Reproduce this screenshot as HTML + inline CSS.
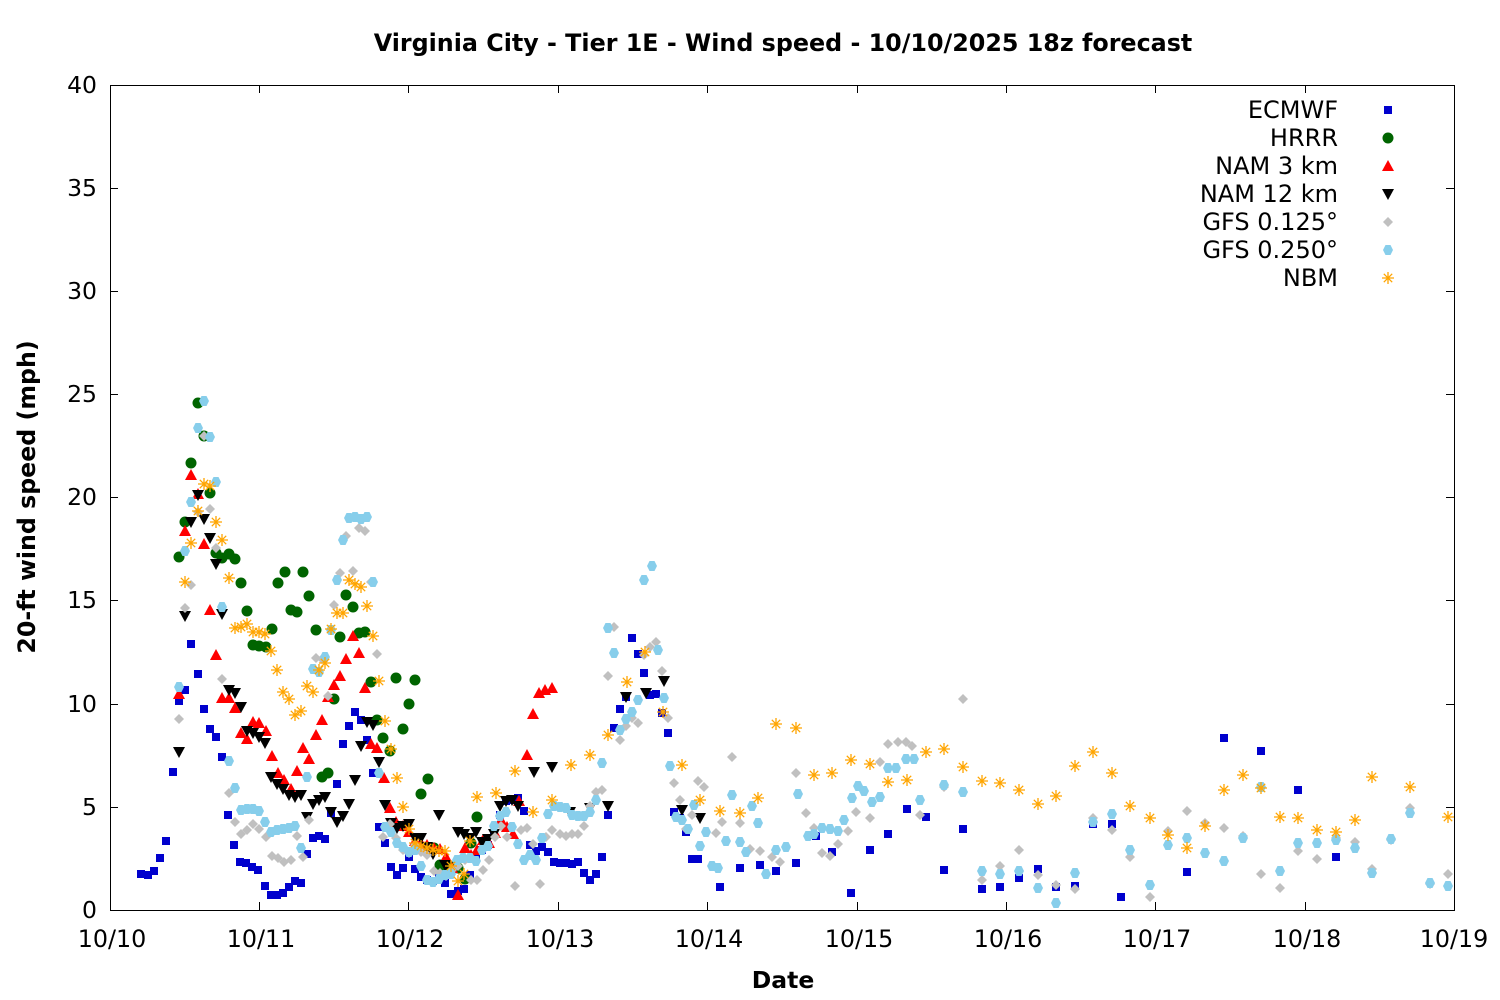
<!DOCTYPE html>
<html><head><meta charset="utf-8"><style>body{margin:0;background:#fff}svg{display:block}text{font-family:"DejaVu Sans","Liberation Sans",sans-serif}</style></head><body>
<svg width="1500" height="1000" viewBox="0 0 1500 1000" xmlns="http://www.w3.org/2000/svg">
<defs>
<rect id="s" x="-4" y="-4" width="8" height="8" fill="#0000cd"/>
<circle id="c" r="5.5" fill="#006400"/>
<path id="t" d="M0,-6 L6,5 L-6,5Z" fill="#ff0000"/>
<path id="v" d="M0,6 L6,-5 L-6,-5Z" fill="#000"/>
<path id="d" d="M0,-5 L5,0 L0,5 L-5,0Z" fill="#c0c0c0"/>
<path id="h" d="M-2.5,-5 L2.5,-5 L5,0 L2.5,5 L-2.5,5 L-5,0Z" fill="#87ceeb"/>
<path id="a" d="M-6,0H6M0,-6V6M-4.2,-4.2L4.2,4.2M-4.2,4.2L4.2,-4.2" stroke="#ffa500" stroke-width="1.3" fill="none"/>
</defs>
<text x="783" y="51" text-anchor="middle" font-size="23.8" font-weight="bold">Virginia City - Tier 1E - Wind speed - 10/10/2025 18z forecast</text>
<g stroke="#000" stroke-width="1" fill="none">
<rect x="110.5" y="85.5" width="1344" height="825"/>
<path d="M110,807.5h8M110,704.5h8M110,600.5h8M110,497.5h8M110,394.5h8M110,291.5h8M110,188.5h8M1454,807.5h-8M1454,704.5h-8M1454,600.5h-8M1454,497.5h-8M1454,394.5h-8M1454,291.5h-8M1454,188.5h-8"/>
<path d="M259.5,910v-8M408.5,910v-8M558.5,910v-8M707.5,910v-8M857.5,910v-8M1006.5,910v-8M1155.5,910v-8M1305.5,910v-8M259.5,85v8M408.5,85v8M558.5,85v8M707.5,85v8M857.5,85v8M1006.5,85v8M1155.5,85v8M1305.5,85v8"/>
</g>
<g font-size="23.5" text-anchor="end">
<text x="97" y="918">0</text><text x="97" y="815">5</text><text x="97" y="712">10</text><text x="97" y="608">15</text><text x="97" y="505">20</text><text x="97" y="402">25</text><text x="97" y="299">30</text><text x="97" y="196">35</text><text x="97" y="93">40</text>
</g>
<g font-size="23.8" text-anchor="middle">
<text x="112" y="947">10/10</text><text x="261" y="947">10/11</text><text x="410" y="947">10/12</text><text x="560" y="947">10/13</text><text x="709" y="947">10/14</text><text x="859" y="947">10/15</text><text x="1008" y="947">10/16</text><text x="1157" y="947">10/17</text><text x="1307" y="947">10/18</text><text x="1454" y="947">10/19</text>
</g>
<text x="783" y="988" text-anchor="middle" font-size="23.5" font-weight="bold">Date</text>
<text transform="translate(35,497) rotate(-90)" text-anchor="middle" font-size="23.7" font-weight="bold">20-ft wind speed (mph)</text>
<g font-size="24" text-anchor="end">
<text x="1338" y="118">ECMWF</text><text x="1338" y="146">HRRR</text><text x="1338" y="174">NAM 3 km</text><text x="1338" y="202">NAM 12 km</text><text x="1338" y="230">GFS 0.125°</text><text x="1338" y="258">GFS 0.250°</text><text x="1338" y="286">NBM</text>
</g>
<use href="#s" x="1388" y="110"/><use href="#c" x="1388" y="138"/><use href="#t" x="1388" y="166"/><use href="#v" x="1388" y="194"/><use href="#d" x="1388" y="222"/><use href="#h" x="1388" y="250"/><use href="#a" x="1388" y="278"/>
<g>
<use href="#s" x="141" y="874"/><use href="#s" x="148" y="875"/><use href="#s" x="154" y="871"/><use href="#s" x="160" y="858"/><use href="#s" x="166" y="841"/><use href="#s" x="173" y="772"/><use href="#s" x="179" y="701"/><use href="#s" x="185" y="690"/><use href="#s" x="191" y="644"/><use href="#s" x="198" y="674"/><use href="#s" x="204" y="709"/><use href="#s" x="210" y="729"/><use href="#s" x="216" y="737"/><use href="#s" x="222" y="757"/><use href="#s" x="228" y="815"/><use href="#s" x="234" y="845"/><use href="#s" x="240" y="862"/><use href="#s" x="246" y="863"/><use href="#s" x="252" y="867"/><use href="#s" x="258" y="870"/><use href="#s" x="265" y="886"/><use href="#s" x="271" y="895"/><use href="#s" x="277" y="895"/><use href="#s" x="283" y="893"/><use href="#s" x="289" y="887"/><use href="#s" x="295" y="881"/><use href="#s" x="301" y="883"/><use href="#s" x="307" y="854"/><use href="#s" x="313" y="838"/><use href="#s" x="319" y="836"/><use href="#s" x="325" y="839"/><use href="#s" x="331" y="813"/><use href="#s" x="337" y="784"/><use href="#s" x="343" y="744"/><use href="#s" x="349" y="726"/><use href="#s" x="355" y="712"/><use href="#s" x="361" y="720"/><use href="#s" x="367" y="740"/><use href="#s" x="373" y="773"/><use href="#s" x="379" y="827"/><use href="#s" x="385" y="843"/><use href="#s" x="391" y="867"/><use href="#s" x="397" y="875"/><use href="#s" x="403" y="868"/><use href="#s" x="409" y="857"/><use href="#s" x="415" y="869"/><use href="#s" x="421" y="877"/><use href="#s" x="427" y="880"/><use href="#s" x="433" y="881"/><use href="#s" x="439" y="874"/><use href="#s" x="445" y="883"/><use href="#s" x="451" y="894"/><use href="#s" x="458" y="891"/><use href="#s" x="464" y="889"/><use href="#s" x="470" y="875"/><use href="#s" x="476" y="857"/><use href="#s" x="482" y="850"/><use href="#s" x="488" y="845"/><use href="#s" x="494" y="833"/><use href="#s" x="500" y="815"/><use href="#s" x="506" y="801"/><use href="#s" x="512" y="800"/><use href="#s" x="518" y="798"/><use href="#s" x="524" y="811"/><use href="#s" x="530" y="845"/><use href="#s" x="536" y="851"/><use href="#s" x="542" y="847"/><use href="#s" x="548" y="852"/><use href="#s" x="554" y="862"/><use href="#s" x="560" y="863"/><use href="#s" x="566" y="863"/><use href="#s" x="572" y="864"/><use href="#s" x="578" y="862"/><use href="#s" x="584" y="873"/><use href="#s" x="590" y="880"/><use href="#s" x="596" y="874"/><use href="#s" x="602" y="857"/><use href="#s" x="608" y="815"/><use href="#s" x="614" y="728"/><use href="#s" x="620" y="709"/><use href="#s" x="626" y="697"/><use href="#s" x="632" y="638"/><use href="#s" x="638" y="654"/><use href="#s" x="644" y="673"/><use href="#s" x="650" y="695"/><use href="#s" x="656" y="694"/><use href="#s" x="662" y="713"/><use href="#s" x="668" y="733"/><use href="#s" x="674" y="812"/><use href="#s" x="680" y="818"/><use href="#s" x="686" y="832"/><use href="#s" x="692" y="859"/><use href="#s" x="698" y="859"/><use href="#s" x="720" y="887"/><use href="#s" x="740" y="868"/><use href="#s" x="760" y="865"/><use href="#s" x="776" y="871"/><use href="#s" x="796" y="863"/><use href="#s" x="816" y="836"/><use href="#s" x="832" y="852"/><use href="#s" x="851" y="893"/><use href="#s" x="870" y="850"/><use href="#s" x="888" y="834"/><use href="#s" x="907" y="809"/><use href="#s" x="926" y="817"/><use href="#s" x="944" y="870"/><use href="#s" x="963" y="829"/><use href="#s" x="982" y="889"/><use href="#s" x="1000" y="887"/><use href="#s" x="1019" y="878"/><use href="#s" x="1038" y="869"/><use href="#s" x="1056" y="887"/><use href="#s" x="1075" y="886"/><use href="#s" x="1093" y="824"/><use href="#s" x="1112" y="824"/><use href="#s" x="1121" y="897"/><use href="#s" x="1187" y="872"/><use href="#s" x="1224" y="738"/><use href="#s" x="1261" y="751"/><use href="#s" x="1298" y="790"/><use href="#s" x="1336" y="857"/>
</g>
<g>
<use href="#c" x="179" y="557"/><use href="#c" x="185" y="522"/><use href="#c" x="191" y="463"/><use href="#c" x="198" y="403"/><use href="#c" x="204" y="436"/><use href="#c" x="210" y="493"/><use href="#c" x="216" y="553"/><use href="#c" x="222" y="558"/><use href="#c" x="229" y="554"/><use href="#c" x="235" y="559"/><use href="#c" x="241" y="583"/><use href="#c" x="247" y="611"/><use href="#c" x="253" y="645"/><use href="#c" x="259" y="646"/><use href="#c" x="266" y="647"/><use href="#c" x="272" y="629"/><use href="#c" x="278" y="583"/><use href="#c" x="285" y="572"/><use href="#c" x="291" y="610"/><use href="#c" x="297" y="612"/><use href="#c" x="303" y="572"/><use href="#c" x="309" y="596"/><use href="#c" x="316" y="630"/><use href="#c" x="322" y="777"/><use href="#c" x="328" y="773"/><use href="#c" x="334" y="699"/><use href="#c" x="340" y="637"/><use href="#c" x="346" y="595"/><use href="#c" x="353" y="607"/><use href="#c" x="359" y="633"/><use href="#c" x="365" y="632"/><use href="#c" x="371" y="682"/><use href="#c" x="377" y="720"/><use href="#c" x="383" y="738"/><use href="#c" x="390" y="751"/><use href="#c" x="396" y="678"/><use href="#c" x="403" y="729"/><use href="#c" x="409" y="704"/><use href="#c" x="415" y="680"/><use href="#c" x="421" y="794"/><use href="#c" x="428" y="779"/><use href="#c" x="434" y="848"/><use href="#c" x="440" y="865"/><use href="#c" x="446" y="873"/><use href="#c" x="452" y="867"/><use href="#c" x="458" y="868"/><use href="#c" x="465" y="879"/><use href="#c" x="471" y="843"/><use href="#c" x="477" y="817"/>
</g>
<g>
<use href="#t" x="179" y="694"/><use href="#t" x="185" y="531"/><use href="#t" x="191" y="475"/><use href="#t" x="198" y="494"/><use href="#t" x="204" y="544"/><use href="#t" x="210" y="610"/><use href="#t" x="216" y="655"/><use href="#t" x="222" y="698"/><use href="#t" x="229" y="698"/><use href="#t" x="235" y="708"/><use href="#t" x="241" y="733"/><use href="#t" x="247" y="739"/><use href="#t" x="253" y="722"/><use href="#t" x="259" y="723"/><use href="#t" x="266" y="731"/><use href="#t" x="272" y="756"/><use href="#t" x="278" y="773"/><use href="#t" x="284" y="780"/><use href="#t" x="291" y="789"/><use href="#t" x="297" y="771"/><use href="#t" x="303" y="748"/><use href="#t" x="309" y="759"/><use href="#t" x="316" y="735"/><use href="#t" x="322" y="720"/><use href="#t" x="328" y="697"/><use href="#t" x="334" y="685"/><use href="#t" x="340" y="676"/><use href="#t" x="346" y="659"/><use href="#t" x="353" y="636"/><use href="#t" x="359" y="653"/><use href="#t" x="365" y="688"/><use href="#t" x="371" y="744"/><use href="#t" x="377" y="748"/><use href="#t" x="384" y="778"/><use href="#t" x="390" y="808"/><use href="#t" x="396" y="822"/><use href="#t" x="403" y="826"/><use href="#t" x="409" y="832"/><use href="#t" x="415" y="841"/><use href="#t" x="421" y="843"/><use href="#t" x="427" y="845"/><use href="#t" x="434" y="848"/><use href="#t" x="440" y="849"/><use href="#t" x="446" y="857"/><use href="#t" x="452" y="868"/><use href="#t" x="458" y="895"/><use href="#t" x="465" y="848"/><use href="#t" x="471" y="855"/><use href="#t" x="477" y="850"/><use href="#t" x="483" y="840"/><use href="#t" x="489" y="843"/><use href="#t" x="495" y="833"/><use href="#t" x="501" y="820"/><use href="#t" x="507" y="827"/><use href="#t" x="513" y="834"/><use href="#t" x="519" y="801"/><use href="#t" x="527" y="755"/><use href="#t" x="533" y="714"/><use href="#t" x="539" y="693"/><use href="#t" x="545" y="690"/><use href="#t" x="552" y="688"/>
</g>
<g>
<use href="#v" x="179" y="752"/><use href="#v" x="185" y="616"/><use href="#v" x="191" y="522"/><use href="#v" x="198" y="495"/><use href="#v" x="204" y="519"/><use href="#v" x="210" y="538"/><use href="#v" x="216" y="564"/><use href="#v" x="222" y="614"/><use href="#v" x="229" y="690"/><use href="#v" x="235" y="693"/><use href="#v" x="241" y="707"/><use href="#v" x="247" y="731"/><use href="#v" x="253" y="733"/><use href="#v" x="259" y="737"/><use href="#v" x="265" y="743"/><use href="#v" x="271" y="777"/><use href="#v" x="277" y="784"/><use href="#v" x="283" y="789"/><use href="#v" x="289" y="795"/><use href="#v" x="295" y="797"/><use href="#v" x="301" y="795"/><use href="#v" x="307" y="817"/><use href="#v" x="313" y="804"/><use href="#v" x="319" y="800"/><use href="#v" x="325" y="797"/><use href="#v" x="331" y="812"/><use href="#v" x="337" y="822"/><use href="#v" x="343" y="816"/><use href="#v" x="349" y="804"/><use href="#v" x="355" y="780"/><use href="#v" x="361" y="746"/><use href="#v" x="367" y="722"/><use href="#v" x="373" y="725"/><use href="#v" x="379" y="762"/><use href="#v" x="385" y="805"/><use href="#v" x="391" y="823"/><use href="#v" x="397" y="828"/><use href="#v" x="403" y="826"/><use href="#v" x="409" y="824"/><use href="#v" x="415" y="838"/><use href="#v" x="421" y="838"/><use href="#v" x="427" y="847"/><use href="#v" x="433" y="854"/><use href="#v" x="439" y="815"/><use href="#v" x="445" y="865"/><use href="#v" x="451" y="872"/><use href="#v" x="458" y="832"/><use href="#v" x="464" y="834"/><use href="#v" x="470" y="838"/><use href="#v" x="476" y="832"/><use href="#v" x="482" y="842"/><use href="#v" x="488" y="839"/><use href="#v" x="494" y="834"/><use href="#v" x="500" y="806"/><use href="#v" x="506" y="801"/><use href="#v" x="512" y="800"/><use href="#v" x="518" y="806"/><use href="#v" x="534" y="772"/><use href="#v" x="552" y="767"/><use href="#v" x="570" y="812"/><use href="#v" x="590" y="808"/><use href="#v" x="608" y="806"/><use href="#v" x="626" y="697"/><use href="#v" x="646" y="693"/><use href="#v" x="664" y="681"/><use href="#v" x="682" y="810"/><use href="#v" x="700" y="818"/>
</g>
<g>
<use href="#d" x="179" y="719"/><use href="#d" x="185" y="608"/><use href="#d" x="191" y="585"/><use href="#d" x="198" y="512"/><use href="#d" x="204" y="436"/><use href="#d" x="210" y="509"/><use href="#d" x="216" y="548"/><use href="#d" x="222" y="679"/><use href="#d" x="229" y="793"/><use href="#d" x="235" y="822"/><use href="#d" x="241" y="834"/><use href="#d" x="247" y="830"/><use href="#d" x="253" y="824"/><use href="#d" x="259" y="829"/><use href="#d" x="266" y="837"/><use href="#d" x="272" y="856"/><use href="#d" x="278" y="858"/><use href="#d" x="284" y="862"/><use href="#d" x="291" y="860"/><use href="#d" x="297" y="836"/><use href="#d" x="303" y="857"/><use href="#d" x="309" y="820"/><use href="#d" x="316" y="658"/><use href="#d" x="322" y="659"/><use href="#d" x="328" y="696"/><use href="#d" x="334" y="605"/><use href="#d" x="340" y="573"/><use href="#d" x="346" y="536"/><use href="#d" x="353" y="571"/><use href="#d" x="359" y="528"/><use href="#d" x="365" y="531"/><use href="#d" x="371" y="582"/><use href="#d" x="377" y="654"/><use href="#d" x="383" y="837"/><use href="#d" x="390" y="824"/><use href="#d" x="396" y="838"/><use href="#d" x="403" y="850"/><use href="#d" x="409" y="853"/><use href="#d" x="415" y="845"/><use href="#d" x="421" y="852"/><use href="#d" x="427" y="855"/><use href="#d" x="434" y="871"/><use href="#d" x="440" y="873"/><use href="#d" x="446" y="876"/><use href="#d" x="452" y="870"/><use href="#d" x="458" y="866"/><use href="#d" x="465" y="860"/><use href="#d" x="471" y="880"/><use href="#d" x="477" y="880"/><use href="#d" x="483" y="870"/><use href="#d" x="489" y="860"/><use href="#d" x="495" y="837"/><use href="#d" x="501" y="826"/><use href="#d" x="507" y="837"/><use href="#d" x="515" y="886"/><use href="#d" x="521" y="830"/><use href="#d" x="527" y="828"/><use href="#d" x="533" y="844"/><use href="#d" x="540" y="884"/><use href="#d" x="546" y="837"/><use href="#d" x="552" y="830"/><use href="#d" x="560" y="834"/><use href="#d" x="566" y="836"/><use href="#d" x="572" y="834"/><use href="#d" x="578" y="834"/><use href="#d" x="584" y="826"/><use href="#d" x="590" y="806"/><use href="#d" x="596" y="792"/><use href="#d" x="602" y="790"/><use href="#d" x="608" y="676"/><use href="#d" x="614" y="627"/><use href="#d" x="620" y="740"/><use href="#d" x="626" y="726"/><use href="#d" x="632" y="718"/><use href="#d" x="638" y="723"/><use href="#d" x="644" y="655"/><use href="#d" x="650" y="647"/><use href="#d" x="656" y="642"/><use href="#d" x="662" y="671"/><use href="#d" x="668" y="718"/><use href="#d" x="674" y="783"/><use href="#d" x="680" y="800"/><use href="#d" x="686" y="829"/><use href="#d" x="692" y="815"/><use href="#d" x="698" y="781"/><use href="#d" x="704" y="787"/><use href="#d" x="716" y="833"/><use href="#d" x="722" y="822"/><use href="#d" x="732" y="757"/><use href="#d" x="740" y="823"/><use href="#d" x="750" y="849"/><use href="#d" x="760" y="851"/><use href="#d" x="772" y="857"/><use href="#d" x="780" y="862"/><use href="#d" x="796" y="773"/><use href="#d" x="806" y="813"/><use href="#d" x="814" y="828"/><use href="#d" x="822" y="853"/><use href="#d" x="830" y="856"/><use href="#d" x="838" y="844"/><use href="#d" x="848" y="831"/><use href="#d" x="856" y="812"/><use href="#d" x="870" y="818"/><use href="#d" x="880" y="762"/><use href="#d" x="888" y="744"/><use href="#d" x="898" y="742"/><use href="#d" x="906" y="742"/><use href="#d" x="912" y="746"/><use href="#d" x="920" y="815"/><use href="#d" x="944" y="787"/><use href="#d" x="963" y="699"/><use href="#d" x="982" y="880"/><use href="#d" x="1000" y="866"/><use href="#d" x="1019" y="850"/><use href="#d" x="1038" y="875"/><use href="#d" x="1056" y="885"/><use href="#d" x="1075" y="889"/><use href="#d" x="1093" y="818"/><use href="#d" x="1112" y="830"/><use href="#d" x="1130" y="857"/><use href="#d" x="1150" y="897"/><use href="#d" x="1168" y="831"/><use href="#d" x="1187" y="811"/><use href="#d" x="1205" y="823"/><use href="#d" x="1224" y="828"/><use href="#d" x="1243" y="836"/><use href="#d" x="1261" y="874"/><use href="#d" x="1280" y="888"/><use href="#d" x="1298" y="851"/><use href="#d" x="1317" y="859"/><use href="#d" x="1336" y="838"/><use href="#d" x="1355" y="842"/><use href="#d" x="1372" y="869"/><use href="#d" x="1391" y="840"/><use href="#d" x="1410" y="808"/><use href="#d" x="1430" y="884"/><use href="#d" x="1448" y="874"/>
</g>
<g>
<use href="#h" x="179" y="687"/><use href="#h" x="185" y="551"/><use href="#h" x="191" y="502"/><use href="#h" x="198" y="428"/><use href="#h" x="204" y="401"/><use href="#h" x="210" y="437"/><use href="#h" x="216" y="482"/><use href="#h" x="222" y="607"/><use href="#h" x="229" y="761"/><use href="#h" x="235" y="788"/><use href="#h" x="241" y="810"/><use href="#h" x="247" y="809"/><use href="#h" x="253" y="809"/><use href="#h" x="259" y="811"/><use href="#h" x="265" y="822"/><use href="#h" x="271" y="832"/><use href="#h" x="277" y="830"/><use href="#h" x="283" y="829"/><use href="#h" x="289" y="828"/><use href="#h" x="295" y="826"/><use href="#h" x="301" y="848"/><use href="#h" x="307" y="777"/><use href="#h" x="313" y="669"/><use href="#h" x="319" y="672"/><use href="#h" x="325" y="657"/><use href="#h" x="331" y="630"/><use href="#h" x="337" y="580"/><use href="#h" x="343" y="540"/><use href="#h" x="349" y="518"/><use href="#h" x="355" y="517"/><use href="#h" x="361" y="519"/><use href="#h" x="367" y="517"/><use href="#h" x="373" y="582"/><use href="#h" x="379" y="773"/><use href="#h" x="385" y="827"/><use href="#h" x="391" y="832"/><use href="#h" x="397" y="843"/><use href="#h" x="403" y="847"/><use href="#h" x="409" y="852"/><use href="#h" x="415" y="850"/><use href="#h" x="421" y="866"/><use href="#h" x="427" y="880"/><use href="#h" x="433" y="882"/><use href="#h" x="439" y="879"/><use href="#h" x="445" y="875"/><use href="#h" x="451" y="874"/><use href="#h" x="457" y="860"/><use href="#h" x="463" y="858"/><use href="#h" x="470" y="858"/><use href="#h" x="476" y="861"/><use href="#h" x="482" y="850"/><use href="#h" x="488" y="846"/><use href="#h" x="494" y="826"/><use href="#h" x="500" y="816"/><use href="#h" x="506" y="812"/><use href="#h" x="512" y="827"/><use href="#h" x="518" y="844"/><use href="#h" x="524" y="860"/><use href="#h" x="530" y="855"/><use href="#h" x="536" y="860"/><use href="#h" x="542" y="838"/><use href="#h" x="548" y="814"/><use href="#h" x="554" y="806"/><use href="#h" x="560" y="807"/><use href="#h" x="566" y="808"/><use href="#h" x="572" y="815"/><use href="#h" x="578" y="816"/><use href="#h" x="584" y="816"/><use href="#h" x="590" y="812"/><use href="#h" x="596" y="800"/><use href="#h" x="602" y="763"/><use href="#h" x="608" y="628"/><use href="#h" x="614" y="653"/><use href="#h" x="620" y="730"/><use href="#h" x="626" y="719"/><use href="#h" x="632" y="712"/><use href="#h" x="638" y="700"/><use href="#h" x="644" y="580"/><use href="#h" x="652" y="566"/><use href="#h" x="658" y="650"/><use href="#h" x="664" y="698"/><use href="#h" x="670" y="766"/><use href="#h" x="676" y="817"/><use href="#h" x="682" y="820"/><use href="#h" x="688" y="829"/><use href="#h" x="694" y="805"/><use href="#h" x="700" y="846"/><use href="#h" x="706" y="832"/><use href="#h" x="712" y="866"/><use href="#h" x="718" y="868"/><use href="#h" x="726" y="841"/><use href="#h" x="732" y="795"/><use href="#h" x="740" y="842"/><use href="#h" x="746" y="852"/><use href="#h" x="752" y="806"/><use href="#h" x="758" y="823"/><use href="#h" x="766" y="874"/><use href="#h" x="776" y="850"/><use href="#h" x="786" y="847"/><use href="#h" x="798" y="794"/><use href="#h" x="808" y="836"/><use href="#h" x="814" y="834"/><use href="#h" x="822" y="828"/><use href="#h" x="830" y="829"/><use href="#h" x="838" y="831"/><use href="#h" x="844" y="820"/><use href="#h" x="852" y="798"/><use href="#h" x="858" y="786"/><use href="#h" x="864" y="791"/><use href="#h" x="872" y="802"/><use href="#h" x="880" y="797"/><use href="#h" x="888" y="768"/><use href="#h" x="896" y="768"/><use href="#h" x="906" y="759"/><use href="#h" x="914" y="759"/><use href="#h" x="920" y="800"/><use href="#h" x="944" y="785"/><use href="#h" x="963" y="792"/><use href="#h" x="982" y="871"/><use href="#h" x="1000" y="874"/><use href="#h" x="1019" y="871"/><use href="#h" x="1038" y="888"/><use href="#h" x="1056" y="903"/><use href="#h" x="1075" y="873"/><use href="#h" x="1093" y="822"/><use href="#h" x="1112" y="814"/><use href="#h" x="1130" y="850"/><use href="#h" x="1150" y="885"/><use href="#h" x="1168" y="845"/><use href="#h" x="1187" y="838"/><use href="#h" x="1205" y="853"/><use href="#h" x="1224" y="861"/><use href="#h" x="1243" y="838"/><use href="#h" x="1261" y="787"/><use href="#h" x="1280" y="871"/><use href="#h" x="1298" y="843"/><use href="#h" x="1317" y="843"/><use href="#h" x="1336" y="840"/><use href="#h" x="1355" y="848"/><use href="#h" x="1372" y="873"/><use href="#h" x="1391" y="839"/><use href="#h" x="1410" y="813"/><use href="#h" x="1430" y="883"/><use href="#h" x="1448" y="886"/>
</g>
<g>
<use href="#a" x="185" y="582"/><use href="#a" x="191" y="543"/><use href="#a" x="198" y="511"/><use href="#a" x="204" y="484"/><use href="#a" x="210" y="486"/><use href="#a" x="216" y="522"/><use href="#a" x="222" y="540"/><use href="#a" x="229" y="578"/><use href="#a" x="235" y="628"/><use href="#a" x="241" y="627"/><use href="#a" x="247" y="624"/><use href="#a" x="253" y="632"/><use href="#a" x="259" y="632"/><use href="#a" x="265" y="634"/><use href="#a" x="271" y="651"/><use href="#a" x="277" y="670"/><use href="#a" x="283" y="692"/><use href="#a" x="289" y="699"/><use href="#a" x="295" y="715"/><use href="#a" x="301" y="711"/><use href="#a" x="307" y="686"/><use href="#a" x="313" y="692"/><use href="#a" x="319" y="670"/><use href="#a" x="325" y="663"/><use href="#a" x="331" y="629"/><use href="#a" x="337" y="613"/><use href="#a" x="343" y="613"/><use href="#a" x="349" y="580"/><use href="#a" x="355" y="584"/><use href="#a" x="361" y="587"/><use href="#a" x="367" y="606"/><use href="#a" x="373" y="636"/><use href="#a" x="379" y="681"/><use href="#a" x="385" y="721"/><use href="#a" x="391" y="749"/><use href="#a" x="397" y="778"/><use href="#a" x="403" y="807"/><use href="#a" x="409" y="829"/><use href="#a" x="415" y="843"/><use href="#a" x="421" y="846"/><use href="#a" x="427" y="848"/><use href="#a" x="433" y="850"/><use href="#a" x="439" y="851"/><use href="#a" x="445" y="851"/><use href="#a" x="451" y="866"/><use href="#a" x="458" y="881"/><use href="#a" x="464" y="874"/><use href="#a" x="470" y="841"/><use href="#a" x="477" y="797"/><use href="#a" x="496" y="793"/><use href="#a" x="515" y="771"/><use href="#a" x="533" y="812"/><use href="#a" x="552" y="800"/><use href="#a" x="571" y="765"/><use href="#a" x="590" y="755"/><use href="#a" x="608" y="735"/><use href="#a" x="627" y="682"/><use href="#a" x="645" y="652"/><use href="#a" x="663" y="712"/><use href="#a" x="682" y="765"/><use href="#a" x="700" y="800"/><use href="#a" x="720" y="811"/><use href="#a" x="740" y="813"/><use href="#a" x="758" y="798"/><use href="#a" x="776" y="724"/><use href="#a" x="796" y="728"/><use href="#a" x="814" y="775"/><use href="#a" x="832" y="773"/><use href="#a" x="851" y="760"/><use href="#a" x="870" y="764"/><use href="#a" x="888" y="782"/><use href="#a" x="907" y="780"/><use href="#a" x="926" y="752"/><use href="#a" x="944" y="749"/><use href="#a" x="963" y="767"/><use href="#a" x="982" y="781"/><use href="#a" x="1000" y="783"/><use href="#a" x="1019" y="790"/><use href="#a" x="1038" y="804"/><use href="#a" x="1056" y="796"/><use href="#a" x="1075" y="766"/><use href="#a" x="1093" y="752"/><use href="#a" x="1112" y="773"/><use href="#a" x="1130" y="806"/><use href="#a" x="1150" y="818"/><use href="#a" x="1168" y="835"/><use href="#a" x="1187" y="848"/><use href="#a" x="1205" y="826"/><use href="#a" x="1224" y="790"/><use href="#a" x="1243" y="775"/><use href="#a" x="1261" y="788"/><use href="#a" x="1280" y="817"/><use href="#a" x="1298" y="818"/><use href="#a" x="1317" y="830"/><use href="#a" x="1336" y="832"/><use href="#a" x="1355" y="820"/><use href="#a" x="1372" y="777"/><use href="#a" x="1410" y="787"/><use href="#a" x="1448" y="817"/>
</g>
</svg>
</body></html>
